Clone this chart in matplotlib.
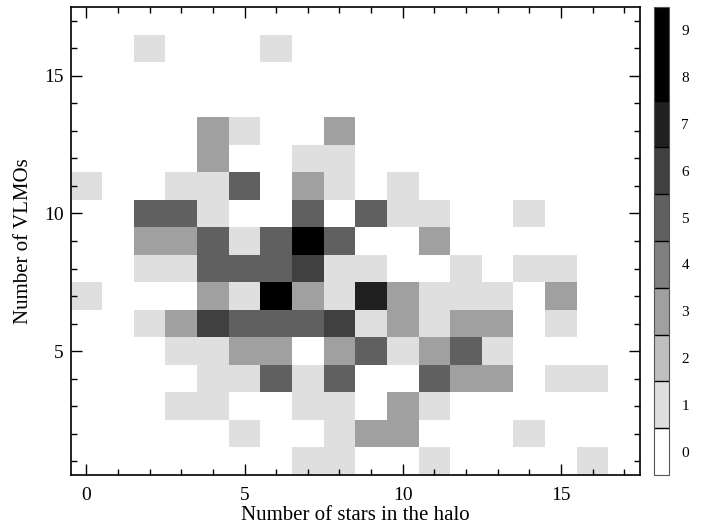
import numpy as np
import matplotlib.pyplot as plt
from matplotlib.colors import ListedColormap, BoundaryNorm

plt.rcParams['font.family'] = ['Liberation Serif', 'DejaVu Serif']

# halo stars on x (0..17), VLMOs on y (1..17)
n_stars = np.arange(0, 18)
n_vlmos = np.arange(1, 18)

# counts per cell, one row per VLMO number (1 at the top of the list)
counts = [
    [0, 0, 0, 0, 0, 0, 0, 1, 1, 0, 0, 1, 0, 0, 0, 0, 1, 0],  # 1
    [0, 0, 0, 0, 0, 1, 0, 0, 1, 3, 3, 0, 0, 0, 1, 0, 0, 0],  # 2
    [0, 0, 0, 1, 1, 0, 0, 1, 1, 0, 3, 1, 0, 0, 0, 0, 0, 0],  # 3
    [0, 0, 0, 0, 1, 1, 5, 1, 5, 0, 0, 5, 3, 3, 0, 1, 1, 0],  # 4
    [0, 0, 0, 1, 1, 3, 3, 0, 3, 5, 1, 3, 5, 1, 0, 0, 0, 0],  # 5
    [0, 0, 1, 3, 6, 5, 5, 5, 6, 1, 3, 1, 3, 3, 0, 1, 0, 0],  # 6
    [1, 0, 0, 0, 3, 1, 8, 3, 1, 7, 3, 1, 1, 1, 0, 3, 0, 0],  # 7
    [0, 0, 1, 1, 5, 5, 5, 6, 1, 1, 0, 0, 1, 0, 1, 1, 0, 0],  # 8
    [0, 0, 3, 3, 5, 1, 5, 8, 5, 0, 0, 3, 0, 0, 0, 0, 0, 0],  # 9
    [0, 0, 5, 5, 1, 0, 0, 5, 0, 5, 1, 1, 0, 0, 1, 0, 0, 0],  # 10
    [1, 0, 0, 1, 1, 5, 0, 3, 1, 0, 1, 0, 0, 0, 0, 0, 0, 0],  # 11
    [0, 0, 0, 0, 3, 0, 0, 1, 1, 0, 0, 0, 0, 0, 0, 0, 0, 0],  # 12
    [0, 0, 0, 0, 3, 1, 0, 0, 3, 0, 0, 0, 0, 0, 0, 0, 0, 0],  # 13
    [0] * 18,                                                 # 14
    [0] * 18,                                                 # 15
    [0, 0, 1, 0, 0, 0, 1, 0, 0, 0, 0, 0, 0, 0, 0, 0, 0, 0],  # 16
    [0] * 18,                                                 # 17
]

levels = np.arange(0, 10)
grays = ['#ffffff', '#dfdfdf', '#bfbfbf', '#a0a0a0', '#808080',
         '#606060', '#404040', '#202020', '#000000', '#000000']

cmap = ListedColormap(grays)
norm = BoundaryNorm(np.arange(-0.5, 10.5, 1), cmap.N)

fig = plt.figure(figsize=(7.13, 5.26), dpi=100)
ax = fig.add_axes([0.099, 0.097, 0.7986, 0.8897])
cax = fig.add_axes([0.917, 0.097, 0.021, 0.8897])

xe = np.append(n_stars - 0.5, n_stars[-1] + 0.5)
ye = np.append(n_vlmos - 0.5, n_vlmos[-1] + 0.5)
mesh = ax.pcolormesh(xe, ye, np.array(counts), cmap=cmap, norm=norm)

ax.set_xlim(-0.5, 17.5)
ax.set_ylim(0.5, 17.5)
ax.set_xticks([0, 5, 10, 15])
ax.set_yticks([5, 10, 15])
ax.set_xticks(np.arange(0, 18), minor=True)
ax.set_yticks(np.arange(1, 18), minor=True)
ax.tick_params(which='both', direction='in', top=True, right=True,
               labelsize=14, width=1.0)
ax.tick_params(axis='x', pad=9)
ax.tick_params(axis='y', pad=5)
ax.tick_params(which='major', length=8)
ax.tick_params(which='minor', length=4)
for s in ax.spines.values():
    s.set_linewidth(1.2)

ax.set_xlabel('Number of stars in the halo', fontsize=15, labelpad=1)
ax.set_ylabel('Number of VLMOs', fontsize=15, labelpad=8)

cb = fig.colorbar(mesh, cax=cax, ticks=levels, drawedges=True)
cb.ax.minorticks_off()
cb.ax.tick_params(length=0, labelsize=11, pad=9)
cb.outline.set_edgecolor('#555555')
cb.dividers.set_color('black')
cb.dividers.set_linewidth(1.0)

plt.savefig('out.png', dpi=100)
plt.close()
